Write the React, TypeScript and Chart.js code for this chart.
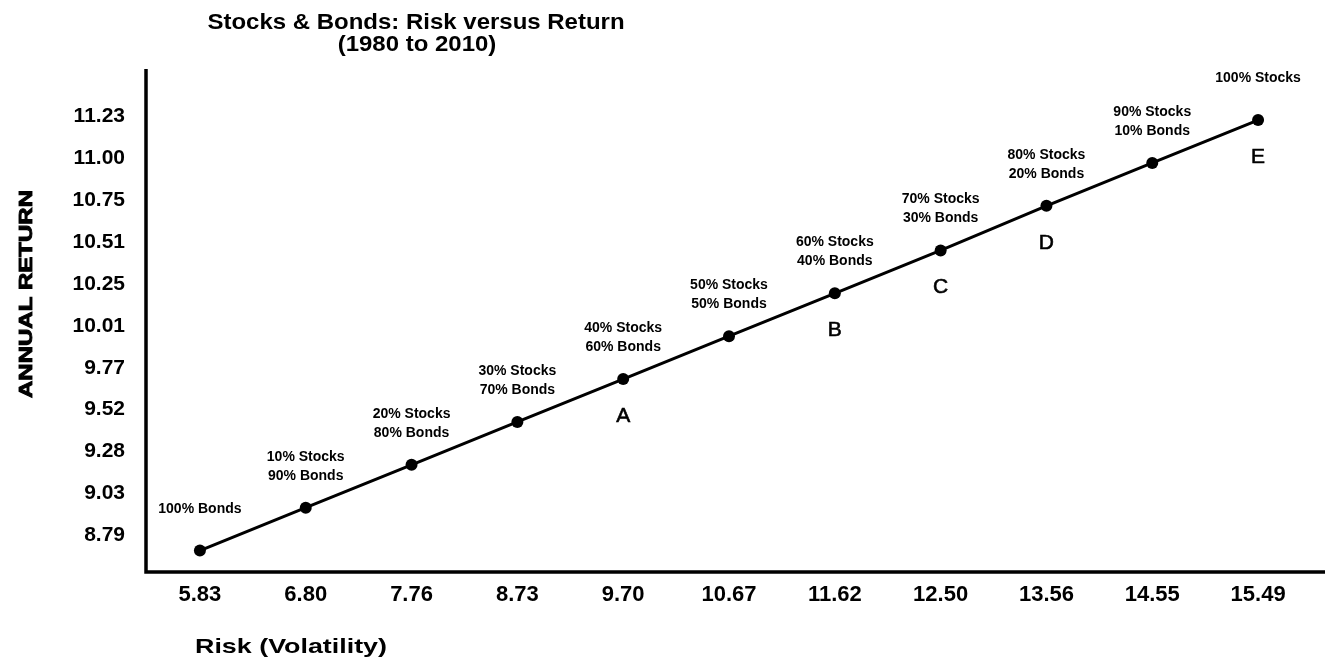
import React, { useEffect, useRef } from 'react';
import { Chart, registerables } from 'chart.js';

Chart.register(...registerables);

const riskLabels = ['5.83', '6.80', '7.76', '8.73', '9.70', '10.67', '11.62', '12.50', '13.56', '14.55', '15.49'];
const returnValues = [8.7, 8.95, 9.2, 9.45, 9.7, 9.95, 10.2, 10.45, 10.71, 10.96, 11.21];
const yTickLabels = ['8.79', '9.03', '9.28', '9.52', '9.77', '10.01', '10.25', '10.51', '10.75', '11.00', '11.23'];
const mixLabels: string[][] = [
  ['100% Bonds'],
  ['10% Stocks', '90% Bonds'],
  ['20% Stocks', '80% Bonds'],
  ['30% Stocks', '70% Bonds'],
  ['40% Stocks', '60% Bonds'],
  ['50% Stocks', '50% Bonds'],
  ['60% Stocks', '40% Bonds'],
  ['70% Stocks', '30% Bonds'],
  ['80% Stocks', '20% Bonds'],
  ['90% Stocks', '10% Bonds'],
  ['100% Stocks'],
];
const pointLetters = ['', '', '', '', 'A', '', 'B', 'C', 'D', '', 'E'];
const titleLines = ['Stocks & Bonds: Risk versus Return', '(1980 to 2010)'];
const yTitle = 'ANNUAL RETURN';
const xTitle = 'Risk (Volatility)';

const FONT = '"Liberation Sans", Arial, Helvetica, sans-serif';

function stretchedText(
  ctx: CanvasRenderingContext2D,
  text: string,
  x: number,
  y: number,
  font: string,
  align: CanvasTextAlign,
  targetWidth: number | null,
  baseline: CanvasTextBaseline = 'alphabetic'
) {
  ctx.save();
  ctx.font = font;
  ctx.textAlign = align;
  ctx.textBaseline = baseline;
  const w = ctx.measureText(text).width;
  const sx = targetWidth ? targetWidth / w : 1;
  ctx.translate(x, y);
  ctx.scale(sx, 1);
  ctx.fillText(text, 0, 0);
  ctx.restore();
}

const annotPlugin = {
  id: 'annotPlugin',
  afterDraw(chart: any) {
    const ctx: CanvasRenderingContext2D = chart.ctx;
    const { left, top, bottom } = chart.chartArea;
    ctx.save();
    ctx.fillStyle = '#000';
    ctx.strokeStyle = '#000';

    // axis lines
    ctx.lineWidth = 3.5;
    ctx.beginPath();
    ctx.moveTo(left - 1, top);
    ctx.lineTo(left - 1, bottom + 1.75);
    ctx.moveTo(left - 2.75, bottom);
    ctx.lineTo(chart.width, bottom);
    ctx.stroke();

    // point labels
    const meta = chart.getDatasetMeta(0);
    meta.data.forEach((pt: any, i: number) => {
      const lines = mixLabels[i] || [];
      ctx.font = `bold 14px ${FONT}`;
      ctx.textAlign = 'center';
      ctx.textBaseline = 'middle';
      const lh = 19;
      const c = pt.y - 41.5;
      lines.forEach((ln, k) => {
        ctx.fillText(ln, pt.x, c + (k - (lines.length - 1) / 2) * lh);
      });
      if (pointLetters[i]) {
        ctx.font = `21px ${FONT}`;
        ctx.lineWidth = 0.6;
        ctx.fillText(pointLetters[i], pt.x, pt.y + 37);
        ctx.strokeText(pointLetters[i], pt.x, pt.y + 37);
      }
    });

    // title
    ctx.font = `bold 22px ${FONT}`;
    const w1 = ctx.measureText(titleLines[0]).width * 1.09;
    stretchedText(ctx, titleLines[0], 416, 29, `bold 22px ${FONT}`, 'center', w1);
    const w2 = ctx.measureText(titleLines[1]).width * 1.09;
    stretchedText(ctx, titleLines[1], 417, 51, `bold 22px ${FONT}`, 'center', w2);

    // x title
    stretchedText(ctx, xTitle, 195, 653, `bold 21px ${FONT}`, 'left', 192);

    // y title (rotated)
    ctx.save();
    ctx.translate(27, 294);
    ctx.rotate(-Math.PI / 2);
    ctx.font = `bold 19px ${FONT}`;
    ctx.textAlign = 'center';
    ctx.textBaseline = 'middle';
    const wy = ctx.measureText(yTitle).width;
    ctx.scale(208 / wy, 1);
    ctx.lineWidth = 0.9;
    ctx.fillText(yTitle, 0, 0);
    ctx.strokeText(yTitle, 0, 0);
    ctx.restore();

    ctx.restore();
  },
};

export default function App() {
  const ref = useRef<HTMLCanvasElement | null>(null);

  useEffect(() => {
    if (!ref.current) return;
    const n = yTickLabels.length;
    const first = parseFloat(yTickLabels[0]);
    const last = parseFloat(yTickLabels[n - 1]);
    const chart = new Chart(ref.current, {
      type: 'line',
      data: {
        labels: riskLabels,
        datasets: [
          {
            data: returnValues,
            borderColor: '#000',
            backgroundColor: '#000',
            borderWidth: 3,
            pointRadius: 6,
            pointHoverRadius: 6,
            pointBackgroundColor: '#000',
            pointBorderColor: '#000',
            pointBorderWidth: 0,
            tension: 0,
            fill: false,
          },
        ],
      },
      options: {
        animation: false,
        responsive: false,
        devicePixelRatio: 1,
        layout: { padding: { top: 69, right: 14, left: 0, bottom: 0 } },
        plugins: {
          legend: { display: false },
          title: { display: false },
          tooltip: { enabled: false },
        },
        scales: {
          x: {
            type: 'category',
            offset: true,
            grid: { display: false, drawTicks: false },
            border: { display: false },
            ticks: {
              color: '#000',
              font: { family: FONT, size: 22, weight: 'bold' },
              padding: 10,
              maxRotation: 0,
              autoSkip: false,
            },
            afterFit: (scale: any) => {
              scale.height = 88;
            },
          },
          y: {
            type: 'linear',
            min: 8.575,
            max: 11.508,
            grid: { display: false, drawTicks: false },
            border: { display: false },
            afterBuildTicks: (scale: any) => {
              scale.ticks = yTickLabels.map((_, i) => ({ value: first + ((last - first) * i) / (n - 1) }));
            },
            ticks: {
              color: '#000',
              font: { family: FONT, size: 21, weight: 'bold' },
              padding: 22,
              callback: (_v: any, i: number) => yTickLabels[i],
            },
            afterFit: (scale: any) => {
              scale.width = 147;
            },
          },
        },
      } as any,
      plugins: [annotPlugin],
    });
    return () => chart.destroy();
  }, []);

  return (
    <div style={{ position: 'fixed', left: 0, top: 0, width: 1325, height: 660, background: '#fff' }}>
      <canvas ref={ref} width={1325} height={660} style={{ display: 'block', width: 1325, height: 660 }} />
    </div>
  );
}
